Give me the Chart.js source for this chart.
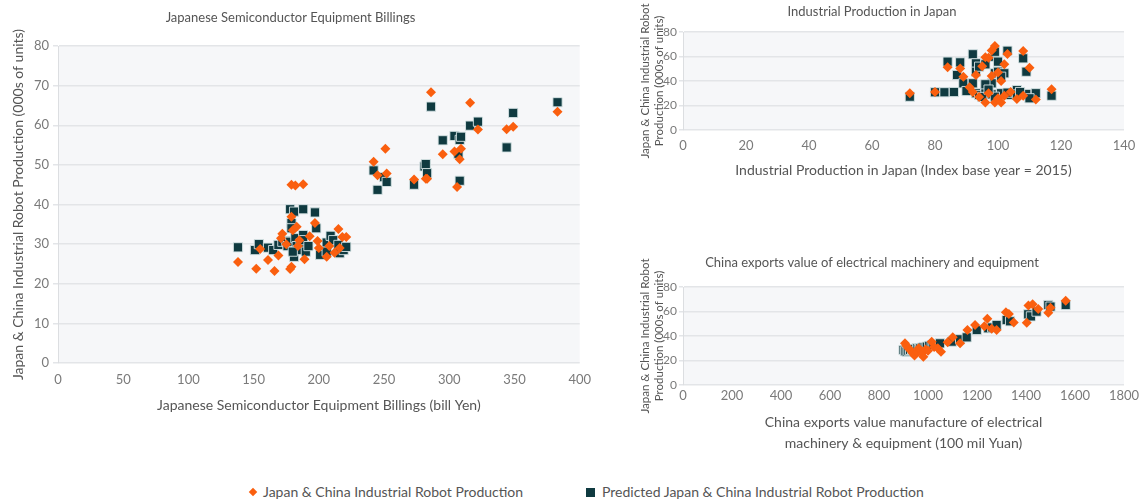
<!DOCTYPE html>
<html><head><meta charset="utf-8">
<script src="https://cdn.jsdelivr.net/npm/chart.js@4.4.1/dist/chart.umd.min.js"></script>
<style>
html,body{margin:0;padding:0;background:#fff;width:1147px;height:503px;overflow:hidden;font-family:Lato,"Open Sans",sans-serif}
canvas{position:absolute}
#c1{left:0;top:0}
#c2{left:620px;top:0}
#c3{left:620px;top:240px}
.lg{position:absolute;font-size:14px;color:#555;line-height:20px;top:482px;white-space:nowrap}
.dia{position:absolute;width:6px;height:6px;background:#fa5f0f;transform:rotate(45deg);left:250px;top:489px}
.sq{position:absolute;width:9px;height:9px;background:#0f3a40;left:586px;top:488px}
</style></head>
<body>
<canvas id="c1" width="600" height="430"></canvas>
<canvas id="c2" width="527" height="190"></canvas>
<canvas id="c3" width="527" height="213"></canvas>
<div class="dia"></div><div class="lg" style="left:263px">Japan &amp; China Industrial Robot Production</div>
<div class="sq"></div><div class="lg" style="left:602px">Predicted Japan &amp; China Industrial Robot Production</div>
<script>
// ---- data ----
const seriesNames = ["Japan & China Industrial Robot Production", "Predicted Japan & China Industrial Robot Production"];
const yTicks = [0, 80];
// Chart 1: Japanese Semiconductor Equipment Billings
const semiXTicks = [0, 400, 50];
const semiActX = [138,152,155,161,166,169,171,172,175,178,179,180,179,183,184,185,189,193,197,199,200,206,208,212,215,216,218,221,179,182,188,242,245,251,252,273,282,283,286,295,304,306,308,309,316,322,344,349,383];
const semiActY = [25.5,23.8,28.8,26,23.2,27.1,31.5,32.6,30,23.7,24.3,33.5,36.9,34.4,29.5,31,26.2,32,35.3,30.8,29,26.8,29.5,27.8,33.8,29,31.8,31.8,45,44.8,45.1,50.8,47.4,54.1,47.8,46.3,46.5,46.5,68.3,52.7,53.4,44.4,51.4,54.1,65.7,58.9,59,59.6,63.4];
const semiPredX = [138,151,154,161,165,169,172,175,176,178,178,179,179,181,181,182,183,184,186,188,188,188,190,192,197,198,201,206,206,209,211,215,216,219,221,242,245,250,252,273,281,282,283,286,295,304,307,308,308,316,322,344,349,383,180,309];
const semiPredY = [29.2,28.5,30,29.1,28.5,29.8,30.6,30.8,29.5,38.8,30.6,35.3,34,38.2,26.8,31.5,29.5,28.5,30.2,38.8,32.3,31,28.1,29.5,38,34,27.3,30.4,28.1,32.1,31,29.8,27.7,28.5,29.3,48.6,43.7,46.9,45.7,45,49.6,50.2,47.9,64.7,56.2,57.3,52.8,56.3,46,59.9,60.9,54.4,63.1,65.8,28.1,57.1];
// Chart 2: Industrial Production in Japan
const ipXTicks = [0, 140, 20];
const ipActX = [72,80,84,88,89,91,92,93,94,95,96,96,97,97,98,98,99,99,100,100,101,101,102,102,103,104,106,108,108,110,112,117];
const ipActY = [30,31,51.2,50.3,43.5,35,31,45,27,52,22.5,59.3,59,30,44,65,22.5,68.6,26,47,22.5,40,53.6,28,62,31,25.3,64.5,28,50.9,25,33.2];
const ipPredX = [72,80,83,86,84,88,87,89,90,92,93,92,93,94,96,93,94,96,98,99,99,99,96,103,108,109,100,100,102,101,96,106,101,109,112,117,104,98,99,110,103,106,107,95,97];
const ipPredY = [27.2,30.8,30.8,31,55.8,55.2,44.9,38.1,31.8,61.8,54.4,38.1,47.6,51.7,53.6,30,28.6,36.7,38.1,59.8,63.9,46.3,31.3,64.7,58.5,47.6,55.8,47.6,46.3,43.5,37.3,32.6,30,29.4,30,28,28.6,29.1,27.2,25.9,30.5,29,31,27,33];
// Chart 3: China exports value of electrical machinery and equipment
const exXTicks = [0, 1800, 200];
const exActX = [906,912,920,930,938,945,955,962,975,981,990,1000,1015,1025,1040,1053,1080,1101,1131,1161,1192,1230,1242,1260,1280,1318,1330,1350,1403,1410,1427,1450,1491,1500,1562];
const exActY = [34,32,30,28,26,24,27,30,26,23.1,29,28,35.4,31,30,27.2,35,38.9,34,44.9,49,48,54.1,46,44.9,59.3,58,51,50.9,65,66,62,59,63,68.8];
const exPredX = [900,906,913,920,927,935,940,947,955,962,967,975,982,990,995,1005,1015,1022,1035,1049,1097,1131,1158,1199,1246,1262,1280,1321,1335,1409,1420,1443,1491,1500,1562];
const exPredY = [28.6,27.5,27.2,28,28.6,29,28.6,29.5,30,29.5,30,30.5,31,31,31.3,32,32.5,32.7,33,34,35.4,37.3,38.9,44.9,46.3,47,49,53,52,57.7,56,59.9,65.3,64,65.3];

// ---- rendering ----
const ORANGE = '#fa5f0f', TEAL = '#0f3a40';
Chart.defaults.font.family = 'Lato, "Open Sans", sans-serif';
const plotBg = {id:'plotBg', beforeDraw(c){const {ctx, chartArea:a} = c; ctx.save(); ctx.fillStyle = '#f6f7f9'; ctx.fillRect(a.left, a.top, a.right - a.left, a.bottom - a.top); ctx.restore();}};
const pts = (xs, ys) => xs.map((x, i) => ({x: x, y: ys[i]}));
const plain = v => String(v);

function make(id, o) {
  return new Chart(document.getElementById(id), {
    type: 'scatter',
    data: {datasets: [
      {label: seriesNames[0], data: pts(o.ax, o.ay), pointStyle: 'rectRot', pointRadius: 5, backgroundColor: ORANGE, borderWidth: 0},
      {label: seriesNames[1], data: pts(o.px, o.py), pointStyle: 'rect', pointRadius: 6.5, backgroundColor: TEAL, borderColor: 'rgba(215,228,230,0.9)', borderWidth: 1}
    ]},
    plugins: [plotBg],
    options: {
      responsive: false, animation: false, devicePixelRatio: 1,
      layout: {padding: {left: 0, right: o.padR, top: 0, bottom: 0}},
      plugins: {
        legend: {display: false}, tooltip: {enabled: false},
        title: {display: true, text: o.title, color: '#555', font: {size: 13, weight: 'normal'}, padding: o.titlePad}
      },
      scales: {
        x: {type: 'linear', min: o.xt[0], max: o.xt[1],
          ticks: {stepSize: o.xt[2], autoSkip: false, color: '#7a7a7a', font: {size: 13}, padding: o.xTickPad, maxRotation: 0, callback: plain},
          grid: {display: false, drawTicks: false}, border: {display: false},
          title: {display: true, text: o.xTitle, color: '#555', font: {size: 14, lineHeight: o.xLH || 1.2}, padding: {top: 0, bottom: o.xTitlePadB}},
          afterFit(s) { s.height = o.xH; }
        },
        y: {type: 'linear', min: yTicks[0], max: yTicks[1],
          ticks: {stepSize: o.yStep, color: '#7a7a7a', font: {size: o.yTickSize}, padding: o.yTickPad, callback: plain},
          grid: {color: '#e3e5e8', lineWidth: 1.5, tickLength: o.tickLen, drawTicks: true},
          border: {display: true, color: '#dcdee1'},
          title: {display: true, text: o.yTitle, color: '#555', font: {size: o.yTitleSize, lineHeight: o.yTitleLH}, padding: {top: o.yTitlePadT, bottom: 0}},
          afterFit(s) { s.width = o.yW; }
        }
      }
    }
  });
}

make('c1', {ax: semiActX, ay: semiActY, px: semiPredX, py: semiPredY, xt: semiXTicks, yStep: 10,
  title: 'Japanese Semiconductor Equipment Billings', titlePad: {top: 10, bottom: 20.4},
  xTitle: 'Japanese Semiconductor Equipment Billings (bill Yen)', xTickPad: 9, xTitlePadB: 16.6, xH: 67,
  yTitle: 'Japan & China Industrial Robot Production (000s of units)', yTitleSize: 14, yTitleLH: 1.2, yTitlePadT: 9.6, yW: 58, padR: 19,
  yTickSize: 13, yTickPad: 4, tickLen: 5});

make('c2', {ax: ipActX, ay: ipActY, px: ipPredX, py: ipPredY, xt: ipXTicks, yStep: 20,
  title: 'Industrial Production in Japan', titlePad: {top: 4.2, bottom: 12.2},
  xTitle: 'Industrial Production in Japan (Index base year = 2015)', xTickPad: 8, xTitlePadB: 11.6, xH: 60,
  yTitle: ['Japan & China Industrial Robot', 'Production (000s of units)'], yTitleSize: 11.5, yTitleLH: 1.22, yTitlePadT: 18, yW: 63, padR: 23,
  yTickSize: 12, yTickPad: 2, tickLen: 4});

make('c3', {ax: exActX, ay: exActY, px: exPredX, py: exPredY, xt: exXTicks, yStep: 20,
  title: 'China exports value of electrical machinery and equipment', titlePad: {top: 15.2, bottom: 16.2},
  xTitle: ['China exports value manufacture of electrical', 'machinery & equipment (100 mil Yuan)'], xTickPad: 3, xTitlePadB: 0, xH: 68, xLH: 1.43,
  yTitle: ['Japan & China Industrial Robot', 'Production (000s of units)'], yTitleSize: 11.5, yTitleLH: 1.22, yTitlePadT: 18, yW: 63, padR: 23,
  yTickSize: 12, yTickPad: 2, tickLen: 4});
</script>
</body></html>
